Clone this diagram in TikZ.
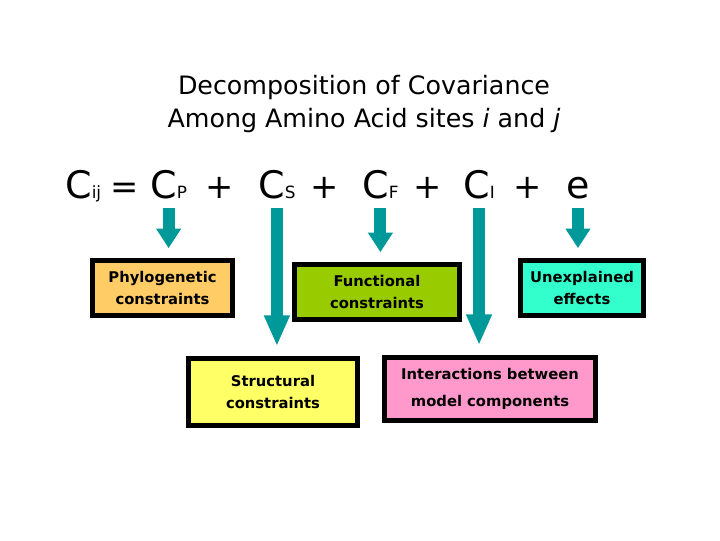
\documentclass[tikz,border=0pt]{standalone}
\usepackage{fontspec}
\setmainfont{DejaVu Sans}
\usepackage{xcolor}
\usetikzlibrary{arrows.meta,calc}

\definecolor{arrowteal}{HTML}{009999}
\definecolor{phyloorange}{HTML}{FFCC66}
\definecolor{funcgreen}{HTML}{99CC00}
\definecolor{unexcyan}{HTML}{33FFCC}
\definecolor{structyellow}{HTML}{FFFF66}
\definecolor{interpink}{HTML}{FF99CC}

\begin{document}
\begin{tikzpicture}[
          x=0.025cm, y=-0.025cm,
          term/.style={anchor=base west, inner sep=0pt, font=\fontsize{27}{27}\selectfont},
          sign/.style={anchor=base, inner sep=0pt, font=\fontsize{24}{24}\selectfont},
          box/.style={draw=black, line width=3.5pt, inner sep=0pt, align=center,
                      font=\bfseries\fontsize{10.5}{15}\selectfont},
          tealarrow/.style={draw=arrowteal, line width=8.5pt, shorten <=7pt, shorten >=7pt},
          shorttip/.style={-{Triangle[width=17pt, length=14pt]}},
          longtip/.style={-{Triangle[width=17pt, length=22pt]}}
        ]
        \useasboundingbox (0,0) rectangle (720,540);

        % Title
        \node[align=center, font=\fontsize{18}{24}\selectfont] (title) at (364,104)
          {Decomposition of Covariance\\Among Amino Acid sites \textit{i} and \textit{j}};

        % Equation
        \node[term] (Cij) at (65,198) {C\fontsize{12}{12}\selectfont ij};
        \node[sign] (eq) at (125,198) {=};
        \node[term] (CP) at (150,198) {C\fontsize{12}{12}\selectfont P};
        \node[sign] (p1) at (220,198) {+};
        \node[term] (CS) at (258,198) {C\fontsize{12}{12}\selectfont S};
        \node[sign] (p2) at (325,198) {+};
        \node[term] (CF) at (362,198) {C\fontsize{12}{12}\selectfont F};
        \node[sign] (p3) at (428,198) {+};
        \node[term] (CI) at (463,198) {C\fontsize{12}{12}\selectfont I};
        \node[sign] (p4) at (528,198) {+};
        \node[term] (e) at (566,198) {e};

        % Boxes
        \node[box, fill=phyloorange, minimum width=3.5cm, minimum height=1.375cm]
          (phylo) at (162.5,288) {Phylogenetic\\constraints};
        \node[box, fill=funcgreen, minimum width=4.125cm, minimum height=1.375cm]
          (func) at (377,292) {Functional\\constraints};
        \node[box, fill=unexcyan, minimum width=3.075cm, minimum height=1.375cm]
          (unex) at (582,288) {Unexplained\\effects};
        \node[box, fill=structyellow, minimum width=4.225cm, minimum height=1.675cm]
          (struct) at (273,392) {Structural\\constraints};
        \node[box, fill=interpink, minimum width=5.275cm, minimum height=1.575cm,
              font=\bfseries\fontsize{10.5}{19}\selectfont]
          (inter) at (490,389) {Interactions between\\model components};

        % Arrows
        \draw[tealarrow, shorttip] (CP.base) -- (CP.base |- phylo.north);
        \draw[tealarrow, longtip] (CS.base) -- (CS.base |- struct.north);
        \draw[tealarrow, shorttip] (CF.base) -- (CF.base |- func.north);
        \draw[tealarrow, longtip] (CI.base) -- (CI.base |- inter.north);
        \draw[tealarrow, shorttip] (e.base) -- (e.base |- unex.north);

      \end{tikzpicture}
\end{document}
